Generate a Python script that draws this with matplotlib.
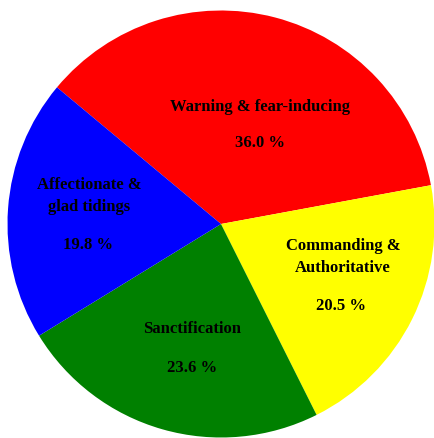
import matplotlib
matplotlib.use("Agg")
import matplotlib.pyplot as plt

categories = ["Warning & fear-inducing", "Commanding &\nAuthoritative", "Sanctification", "Affectionate &\nglad tidings"]
values = [36.0, 20.5, 23.6, 19.8]
colors = ["#ff0000", "#ffff00", "#008000", "#0000ff"]

W, H = 434, 438
cx, cy, R = 221, 224, 213.5

fig = plt.figure(figsize=(W/100, H/100), dpi=100)
ax = fig.add_axes([0, 0, 1, 1])
ax.pie(values, colors=colors, startangle=140.2, counterclock=False, radius=1,
       wedgeprops=dict(linewidth=0))
ax.set_xlim(-cx/R, (W-cx)/R)
ax.set_ylim(-(H-cy)/R, cy/R)
ax.set_aspect('auto')
ax.axis('off')

def px(x, y):
    return (x - cx)/R, (cy - y)/R

# label positions (pixel) : name center, pct center
name_pos = [(260, 107), (343, 257), (192, 329), (89, 196)]
pct_pos = [(260, 143), (341, 306), (192, 368), (88, 245)]
font = dict(family="Liberation Serif", weight="bold", size=12, color="black")
for name, v, npos, ppos in zip(categories, values, name_pos, pct_pos):
    ax.text(*px(*npos), name, ha="center", va="center", linespacing=1.5, **font)
    ax.text(*px(*ppos), f"{v:.1f} %", ha="center", va="center", **font)

fig.savefig("out.png", dpi=100)
